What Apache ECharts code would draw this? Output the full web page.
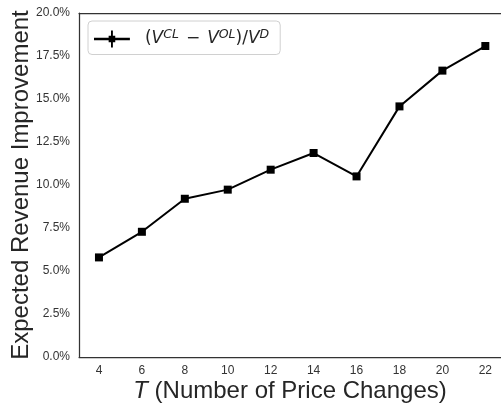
<!DOCTYPE html>
<html>
<head>
<meta charset="utf-8">
<script src="https://cdn.jsdelivr.net/npm/echarts@6/dist/echarts.min.js"></script>
<style>
html,body{margin:0;padding:0;background:#fff;overflow:hidden;}
#chart{width:501px;height:405px;}
</style>
</head>
<body>
<div id="chart"></div>
<script>
var periods = [4, 6, 8, 10, 12, 14, 16, 18, 20, 22];
var improvement = [5.79, 7.28, 9.20, 9.73, 10.89, 11.86, 10.50, 14.57, 16.65, 18.08];
var xTicks = [4, 6, 8, 10, 12, 14, 16, 18, 20, 22];
var yTicks = [0, 2.5, 5, 7.5, 10, 12.5, 15, 17.5, 20];
var seriesName = 'ratio';

var chart = echarts.init(document.getElementById('chart'), null, {renderer: 'canvas'});
var font = 'Liberation Sans, Arial, sans-serif';
var mfont = 'DejaVu Sans, sans-serif';
var data = periods.map(function (p, i) { return [p, improvement[i]]; });
function spine(c) { return {show: true, onZero: false, lineStyle: {color: c, width: 1.25}}; }

chart.setOption({
  animation: false,
  backgroundColor: '#ffffff',
  grid: {show: false, left: 79, top: 13, right: 0, bottom: 48, containLabel: false, outerBoundsMode: 'none'},
  legend: {
    left: 88, top: 21,
    data: [seriesName],
    backgroundColor: '#fff',
    borderColor: '#d0d0d0', borderWidth: 1, borderRadius: 4,
    padding: [7, 11, 7, 6],
    itemWidth: 38, itemHeight: 17, itemGap: 10,
    icon: 'path://M0,7.8 L38,7.8 L38,10.2 L0,10.2 Z M18,0 L20,0 L20,18 L18,18 Z M15.5,5.5 L22.5,5.5 L22.5,12.5 L15.5,12.5 Z',
    formatter: function () {
      return '{g|}{n|(}{i|V}{s|CL}{m|−}{i|V}{s|OL}{n|)/}{i|V}{s|D}';
    },
    textStyle: {
      color: '#262626', fontFamily: mfont, fontSize: 17,
      rich: {
        g: {width: 9, lineHeight: 22},
        n: {fontSize: 17, fontFamily: mfont, color: '#262626', lineHeight: 22},
        m: {fontSize: 17, fontFamily: mfont, color: '#262626', lineHeight: 22, padding: [0, 7, 0, 7]},
        i: {fontSize: 17, fontFamily: mfont, fontStyle: 'italic', color: '#262626', lineHeight: 22},
        s: {fontSize: 12.5, fontFamily: mfont, fontStyle: 'italic', color: '#262626', lineHeight: 13, verticalAlign: 'top'}
      }
    }
  },
  xAxis: [{
    type: 'value', min: 3.07, max: 22.73,
    axisLine: spine('#333'),
    axisTick: {show: false},
    splitLine: {show: false},
    axisLabel: {
      color: '#333', fontFamily: font, fontSize: 12, margin: 8,
      customValues: xTicks,
      formatter: function (v) { return String(v); }
    },
    name: '{i|T} (Number of Price Changes)',
    nameLocation: 'middle', nameGap: 22, nameMoveOverlap: false,
    nameTextStyle: {
      color: '#262626', fontFamily: font, fontSize: 24,
      rich: {i: {fontStyle: 'italic', fontFamily: font, fontSize: 24, color: '#262626'}}
    }
  }, {
    type: 'value', position: 'top', min: 3.07, max: 22.73,
    axisLine: spine('#333'), axisTick: {show: false}, axisLabel: {show: false}, splitLine: {show: false}
  }],
  yAxis: {
    type: 'value', min: 0, max: 20, interval: 2.5,
    axisLine: spine('#333'),
    axisTick: {show: false},
    splitLine: {show: false},
    axisLabel: {
      color: '#333', fontFamily: font, fontSize: 12, margin: 9,
      formatter: function (v) { return v.toFixed(1) + '%'; }
    },
    name: 'Expected Revenue Improvement',
    nameLocation: 'middle', nameGap: 46, nameRotate: 90, nameMoveOverlap: false,
    nameTextStyle: {color: '#262626', fontFamily: font, fontSize: 24}
  },
  series: [{
    name: seriesName,
    type: 'line',
    data: data,
    symbol: 'rect', symbolSize: 8,
    lineStyle: {color: '#000', width: 2},
    itemStyle: {color: '#000'},
    z: 3
  }]
});
</script>
</body>
</html>
